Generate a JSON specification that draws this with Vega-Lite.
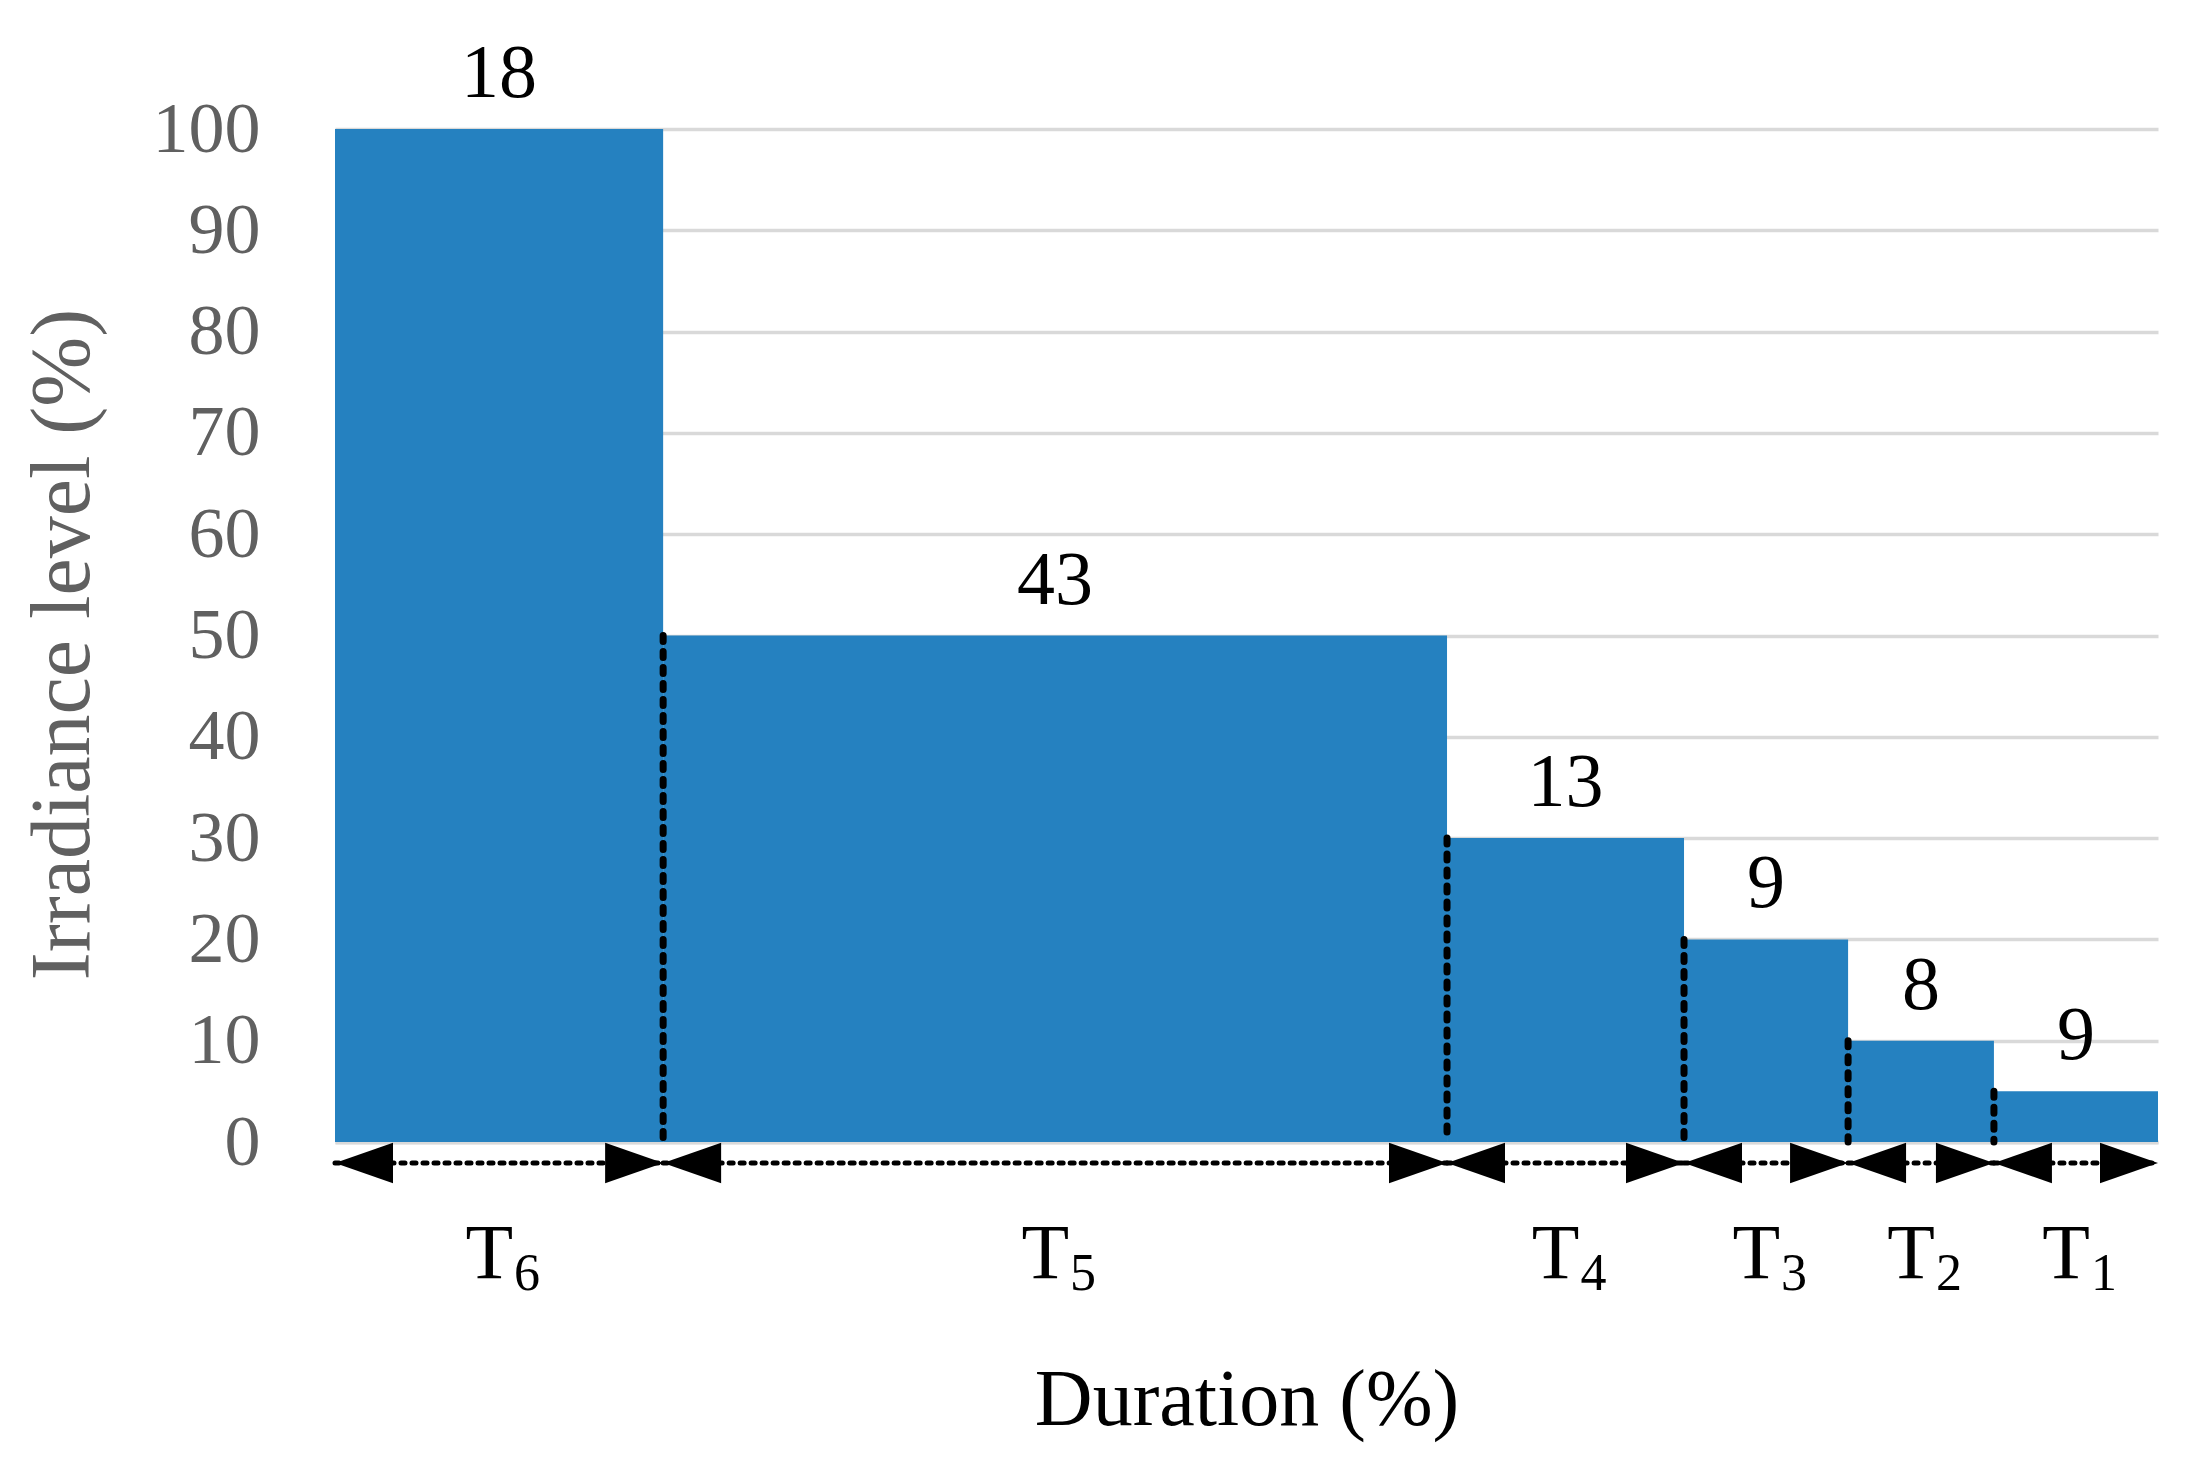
{
  "$schema": "https://vega.github.io/schema/vega-lite/v6.json",
  "autosize": "none",
  "width": 1823,
  "height": 1013,
  "padding": {"left": 335, "top": 129, "right": 42, "bottom": 317},
  "background": "white",
  "config": {"view": {"stroke": null}, "font": "Liberation Serif"},
  "data": {
    "values": [
      {"seg": "T6", "n": "6", "start": 0, "end": 18, "mid": 9, "duration": 18, "level": 100},
      {"seg": "T5", "n": "5", "start": 18, "end": 61, "mid": 39.5, "duration": 43, "level": 50},
      {"seg": "T4", "n": "4", "start": 61, "end": 74, "mid": 67.5, "duration": 13, "level": 30},
      {"seg": "T3", "n": "3", "start": 74, "end": 83, "mid": 78.5, "duration": 9, "level": 20},
      {"seg": "T2", "n": "2", "start": 83, "end": 91, "mid": 87, "duration": 8, "level": 10},
      {"seg": "T1", "n": "1", "start": 91, "end": 100, "mid": 95.5, "duration": 9, "level": 5}
    ]
  },
  "layer": [
    {
      "mark": {"type": "rect", "color": "#2581c0"},
      "encoding": {
        "x": {"field": "start", "type": "quantitative", "scale": {"domain": [0, 100], "nice": false, "zero": true},
          "axis": {"title": "Duration (%)", "labels": false, "ticks": false, "grid": false,
            "domain": true, "domainColor": "#d9d9d9", "domainWidth": 4,
            "titleFont": "Liberation Serif", "titleFontSize": 80, "titleFontWeight": "normal", "titleColor": "#000000",
            "titleBaseline": "alphabetic", "titleY": 282}},
        "x2": {"field": "end"},
        "y": {"field": "level", "type": "quantitative", "scale": {"domain": [0, 100], "nice": false},
          "axis": {"title": "Irradiance level (%)", "values": [0, 10, 20, 30, 40, 50, 60, 70, 80, 90, 100],
            "ticks": false, "domain": false, "grid": true, "gridColor": "#d9d9d9", "gridWidth": 3.5,
            "labelFont": "Liberation Serif", "labelFontSize": 72, "labelColor": "#606060", "labelPadding": 75,
            "titleFont": "Liberation Serif", "titleFontSize": 84, "titleFontWeight": "normal", "titleColor": "#606060",
            "titleAngle": 270, "titleBaseline": "alphabetic", "titleX": -247, "titleY": 515}},
        "y2": {"datum": 0}
      }
    },
    {
      "transform": [{"filter": "datum.start > 0"}],
      "mark": {"type": "rule", "color": "black", "strokeWidth": 7, "strokeDash": [6, 10], "strokeCap": "round"},
      "encoding": {
        "x": {"field": "start", "type": "quantitative"},
        "y": {"field": "level", "type": "quantitative"},
        "y2": {"datum": 0}
      }
    },
    {
      "mark": {"type": "rule", "color": "black", "strokeWidth": 5, "strokeDash": [4, 7], "strokeCap": "round", "yOffset": 21},
      "encoding": {
        "x": {"field": "start", "type": "quantitative"},
        "x2": {"field": "end"},
        "y": {"datum": 0, "type": "quantitative"}
      }
    },
    {
      "mark": {"type": "point", "shape": "M0,0L2,-0.7L2,0.7Z", "filled": true, "color": "black", "opacity": 1, "size": 3364, "yOffset": 21},
      "encoding": {
        "x": {"field": "start", "type": "quantitative"},
        "y": {"datum": 0, "type": "quantitative"}
      }
    },
    {
      "mark": {"type": "point", "shape": "M0,0L-2,-0.7L-2,0.7Z", "filled": true, "color": "black", "opacity": 1, "size": 3364, "yOffset": 21},
      "encoding": {
        "x": {"field": "end", "type": "quantitative"},
        "y": {"datum": 0, "type": "quantitative"}
      }
    },
    {
      "mark": {"type": "text", "font": "Liberation Serif", "fontSize": 76, "color": "black", "baseline": "alphabetic", "align": "center", "dy": -32},
      "encoding": {
        "x": {"field": "mid", "type": "quantitative"},
        "y": {"field": "level", "type": "quantitative"},
        "text": {"field": "duration", "type": "quantitative"}
      }
    },
    {
      "mark": {"type": "text", "font": "Liberation Serif", "fontSize": 78, "color": "black", "baseline": "alphabetic", "align": "right", "dx": 14, "dy": 136, "text": "T"},
      "encoding": {
        "x": {"field": "mid", "type": "quantitative"},
        "y": {"datum": 0, "type": "quantitative"}
      }
    },
    {
      "mark": {"type": "text", "font": "Liberation Serif", "fontSize": 52, "color": "black", "baseline": "alphabetic", "align": "left", "dx": 15, "dy": 148},
      "encoding": {
        "x": {"field": "mid", "type": "quantitative"},
        "y": {"datum": 0, "type": "quantitative"},
        "text": {"field": "n", "type": "nominal"}
      }
    }
  ]
}
